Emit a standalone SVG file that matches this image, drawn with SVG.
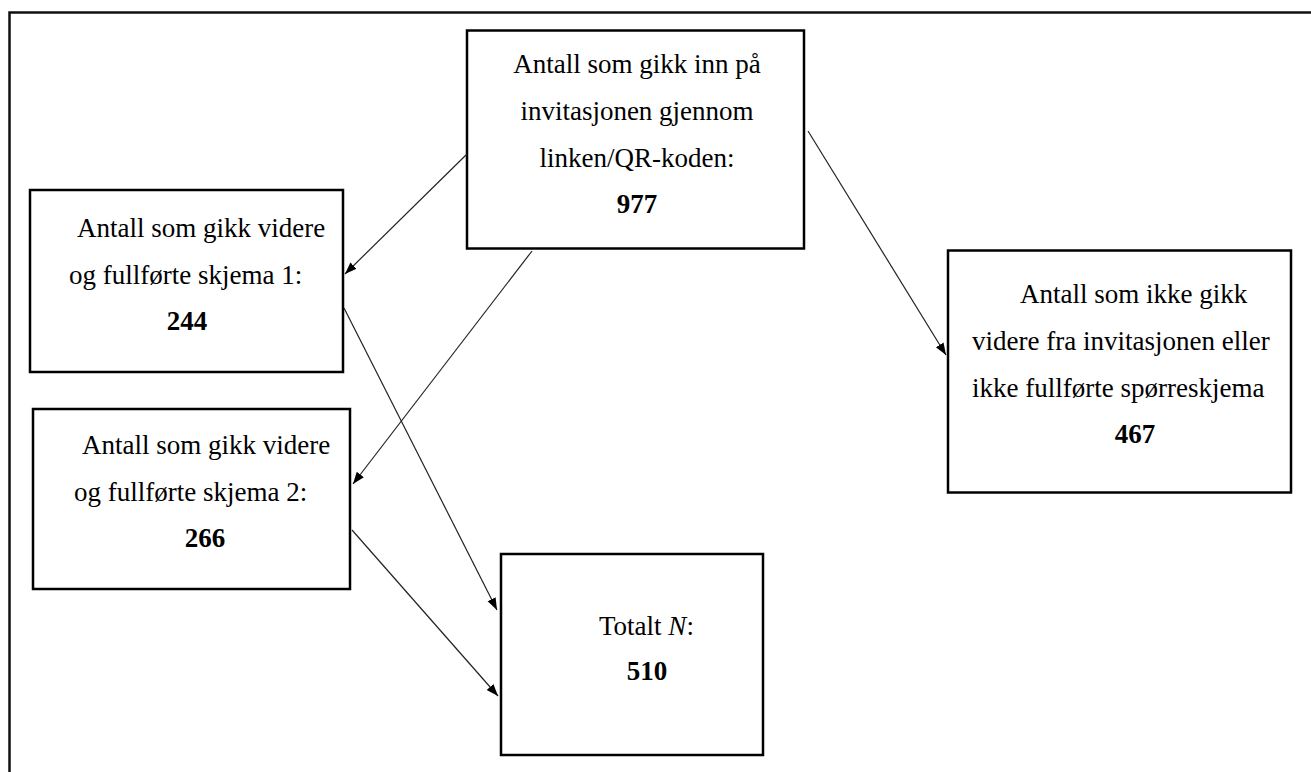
<svg xmlns="http://www.w3.org/2000/svg" width="1311" height="772" viewBox="0 0 1311 772">
<style>
.box{fill:#fff;stroke:#000;stroke-width:2.5}
.t{font-family:"Liberation Serif","Times New Roman",serif;font-size:27px;fill:#000}
.b{font-weight:bold}
.c{text-anchor:middle}
.conn line{stroke:#222;stroke-width:1.2;marker-end:url(#ah)}
</style>
<defs>
<marker id="ah" markerUnits="userSpaceOnUse" markerWidth="13" markerHeight="10" refX="12" refY="4.5" orient="auto">
<path d="M0,0 L12,4.5 L0,9 z" fill="#000"/>
</marker>
</defs>
<rect width="1311" height="772" fill="#fff"/>
<path d="M9.5,772 V12.5 H1311" fill="none" stroke="#111" stroke-width="2.5"/>

<g id="node-top">
<rect class="box" x="467" y="30.5" width="337" height="218"/>
<text class="t c" x="637" y="73">Antall som gikk inn på</text>
<text class="t c" x="637" y="120">invitasjonen gjennom</text>
<text class="t c" x="637" y="167">linken/QR-koden:</text>
<text class="t b c" x="637" y="213">977</text>
</g>

<g id="node-skjema1">
<rect class="box" x="30" y="190" width="313" height="182"/>
<text class="t" x="77" y="237">Antall som gikk videre</text>
<text class="t" x="69" y="284">og fullførte skjema 1:</text>
<text class="t b c" x="187" y="330">244</text>
</g>

<g id="node-skjema2">
<rect class="box" x="33" y="409" width="317" height="180"/>
<text class="t" x="82" y="454">Antall som gikk videre</text>
<text class="t" x="74" y="501">og fullførte skjema 2:</text>
<text class="t b c" x="205" y="547">266</text>
</g>

<g id="node-total">
<rect class="box" x="501" y="554" width="262" height="201"/>
<text class="t" x="599" y="635">Totalt <tspan font-style="italic">N</tspan>:</text>
<text class="t b c" x="647" y="680">510</text>
</g>

<g id="node-ikke">
<rect class="box" x="948" y="250.5" width="343" height="242"/>
<text class="t" x="1020" y="303">Antall som ikke gikk</text>
<text class="t" x="972" y="350">videre fra invitasjonen eller</text>
<text class="t" x="972" y="397">ikke fullførte spørreskjema</text>
<text class="t b c" x="1135" y="443">467</text>
</g>

<g id="connectors" class="conn">
<line x1="467" y1="154" x2="345" y2="274"/>
<line x1="532" y1="251" x2="353" y2="484"/>
<line x1="344" y1="308" x2="497" y2="610"/>
<line x1="352" y1="530" x2="498" y2="696"/>
<line x1="808" y1="131" x2="946" y2="355"/>
</g>
</svg>
